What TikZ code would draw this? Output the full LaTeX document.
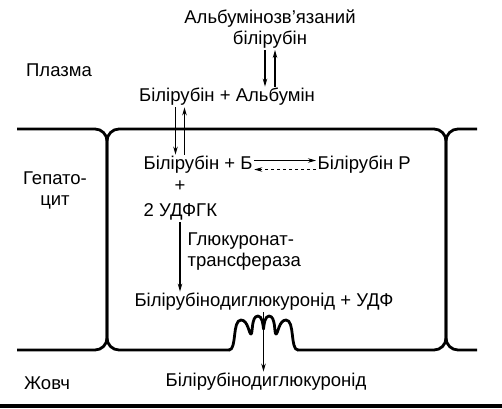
\documentclass[tikz,border=0pt]{standalone}
\usepackage{fontspec}
\setmainfont{Liberation Sans}
\usetikzlibrary{arrows.meta, calc}

\begin{document}
\begin{tikzpicture}[x=1pt, y=-1pt, >={Stealth[length=8pt, width=4.5pt]},
        every node/.style={font=\fontsize{18.5}{21}\selectfont, inner sep=1.5pt},
        membrane/.style={line width=2.8pt, rounded corners=12pt},
        flow/.style={->, line width=1.1pt}]
        \useasboundingbox (0,0) rectangle (502,408);

        % cell membranes
        \draw[membrane] (17,129) -- (107,129) -- (107,350) -- (17,350);
        \draw[membrane] (230,350) -- (107,350) -- (107,129) -- (446,129) -- (446,350) -- (297,350);
        \draw[membrane] (477,129) -- (446,129) -- (446,350) -- (477,350);
        % microvilli of the bile canaliculus
        \draw[line width=2.8pt, line cap=round, line join=round]
            (229,350) .. controls (237,350) and (232,320) .. (241,320)
            .. controls (248,320) and (249,334) .. (251,334)
            .. controls (253,334) and (251,316) .. (258,316)
            .. controls (262,316) and (263,324) .. (263.5,329)
            .. controls (264,324) and (265,316) .. (269,316)
            .. controls (276,316) and (274,334) .. (276,334)
            .. controls (278,334) and (279,320) .. (286,320)
            .. controls (295,320) and (290,350) .. (298,350);
        \fill (0,404) rectangle (502,408);

        % regions
        \node (plasma) at (59,70) {Плазма};
        \node (hepato) [align=center] at (55,190) {Гепато-\\цит};
        \node (bile) at (47,383) {Жовч};

        % compounds
        \node (alb) [align=center] at (270,29) {Альбумінозв’язаний\\білірубін};
        \node (ba) at (227,97) {Білірубін + Альбумін};
        \node (bb) [anchor=west] at (142,165) {Білірубін + Б};
        \node (bp) [anchor=west] at (316,165) {Білірубін Р};
        \node (plus) at (180,186) {+};
        \node (udf) [anchor=west] at (142,212) {2 УДФГК};
        \node (enz) [anchor=west, align=left] at (186,252) {Глюкуронат-\\трансфераза};
        \node (bdg) at (264,302) {Білірубінодиглюкуронід + УДФ};
        \node (out) at (266,382) {Білірубінодиглюкуронід};
        \coordinate (exit) at (263.5,0);

        \draw[flow] ([xshift=-5pt]alb.south) -- ([xshift=-5pt]alb.south |- ba.north);
        \draw[flow] ([xshift=5pt]alb.south |- ba.north) -- ([xshift=5pt]alb.south);
        \draw[flow] ([xshift=-4.5pt]plus.north |- ba.south) -- ([xshift=-4.5pt]plus.north |- bb.north);
        \draw[flow] ([xshift=4.5pt]plus.north |- bb.north) -- ([xshift=4.5pt]plus.north |- ba.south);
        \draw[flow, line width=0.8pt] ([yshift=4.5pt]bb.east) -- ([yshift=4.5pt]bp.west);
        \draw[flow, dashed, line width=0.8pt] ([yshift=-4.5pt]bp.west) -- ([yshift=-4.5pt]bb.east);
        \draw[flow] (plus |- udf.south) -- (plus |- bdg.north);
        \draw[flow] (exit |- bdg.south) -- (exit |- out.north);
\end{tikzpicture}
\end{document}
